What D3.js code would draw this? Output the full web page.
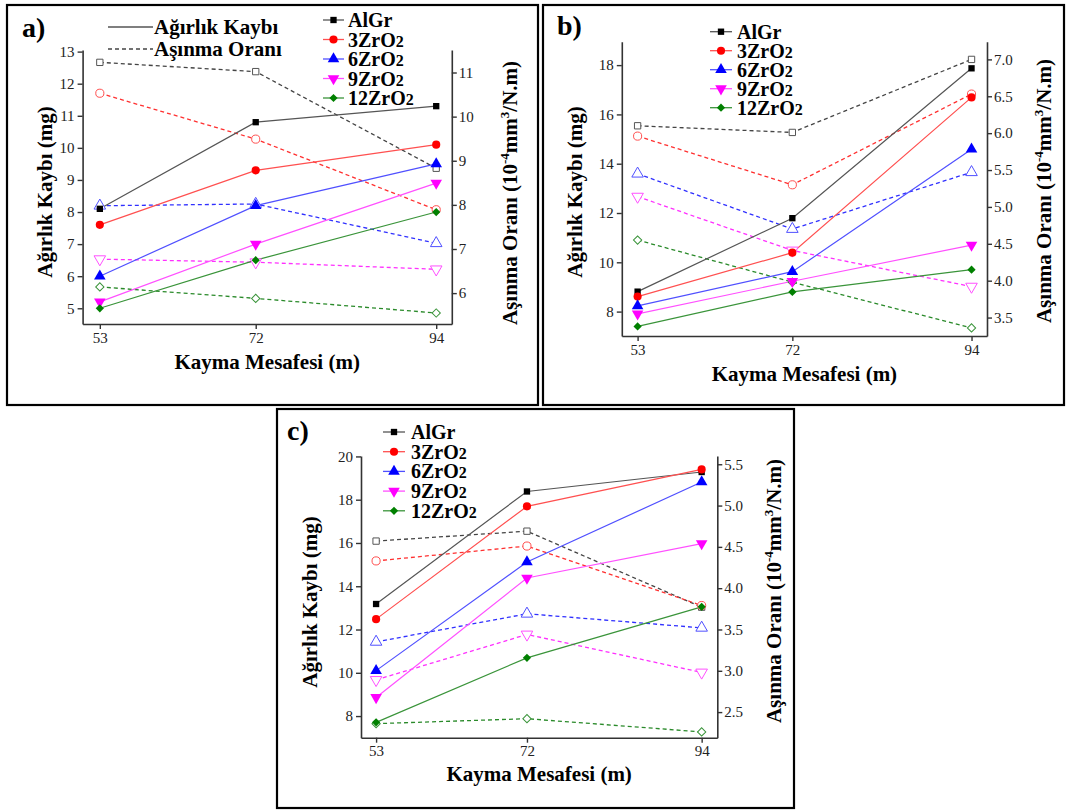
<!DOCTYPE html>
<html>
<head>
<meta charset="utf-8">
<script src="https://cdn.jsdelivr.net/npm/d3@7"></script>
<style>
body { margin: 0; background: #fff; }
svg text { font-family: "Liberation Serif", "DejaVu Serif", "Noto Serif", "Times New Roman", Times, serif !important; }
</style>
</head>
<body>
<div id="chart"></div>
<script>
// sliding distances and materials
var distances = [53, 72, 94]
var materials = ["AlGr", "3ZrO2", "6ZrO2", "9ZrO2", "12ZrO2"]

// a) weight loss (mg) and wear rate (10^-4 mm3/N.m), one row per material
var lossA = [[8.1, 10.8, 11.3], [7.6, 9.3, 10.1], [6.0, 8.2, 9.5], [5.2, 7.0, 8.9], [5.0, 6.5, 8.0]]
var rateA = [[11.23, 11.02, 8.83], [10.53, 9.49, 7.89], [7.98, 8.02, 7.13], [6.77, 6.70, 6.54], [6.14, 5.88, 5.55]]

// b)
var lossB = [[8.81, 11.79, 17.87], [8.61, 10.39, 16.69], [8.23, 9.62, 14.59], [7.91, 9.23, 10.70], [7.40, 8.80, 9.70]]
var rateB = [[6.10, 6.01, 7.00], [5.96, 5.30, 6.53], [5.45, 4.70, 5.47], [5.14, 4.41, 3.92], [4.55, 3.98, 3.36]]

// c)
var lossC = [[13.18, 18.38, 19.28], [12.48, 17.69, 19.40], [10.10, 15.12, 18.82], [8.86, 14.38, 15.97], [7.71, 10.69, 13.05]]
var rateC = [[4.57, 4.69, 3.77], [4.33, 4.51, 3.79], [3.35, 3.69, 3.52], [2.89, 3.44, 2.98], [2.36, 2.42, 2.26]]

// tick values
var leftTicksA = [5, 6, 7, 8, 9, 10, 11, 12, 13]
var rightTicksA = [6, 7, 8, 9, 10, 11]
var leftTicksB = [8, 10, 12, 14, 16, 18]
var rightTicksB = [3.5, 4.0, 4.5, 5.0, 5.5, 6.0, 6.5, 7.0]
var leftTicksC = [8, 10, 12, 14, 16, 18, 20]
var rightTicksC = [2.5, 3.0, 3.5, 4.0, 4.5, 5.0, 5.5]

// styles
var serif = "'Liberation Serif', 'DejaVu Serif', 'Noto Serif', serif"
var markerColours = ["#000000", "#ff0000", "#0000ff", "#ff00ff", "#008000"]
var lineColours = ["#555555", "#ff5050", "#5050ff", "#ff50ff", "#3a943a"]
var dashColours = ["#444444", "#ff3030", "#3030ff", "#ff30ff", "#2a8a2a"]
var shapes = [d3.symbolSquare, d3.symbolCircle, d3.symbolTriangle, d3.symbolTriangle, d3.symbolSquare]
var shapeSizes = [40, 52, 58, 58, 34]
var shapeRot = [0, 0, 0, 180, 45]

var svg = d3.select("#chart")
	.append("svg")
	.attr("width", 1068)
	.attr("height", 810)
	.attr("font-family", serif)

svg.append("rect").attr("width", 1068).attr("height", 810).attr("fill", "#fff")

// layouts of the three panels
var layoutA = {
	box: [7, 5, 538, 405], l: 82.6, r: 451.8, t: 50, b: 324,
	xDom: [50.9, 95.9], yDom: [4.51, 13.05], y2Dom: [5.30, 11.51],
	label: "a)", labelX: 22, labelY: 37,
	legX1: 323, legX2: 344, legTx: 348, legY0: 20, legDy: 19.5,
	yTitleX: 45, yTitleMid: 192, y2TitleX: 510, y2TitleMid: 193, xTitleY: 369,
	seriesLegend: true
}
var layoutB = {
	box: [543, 5, 1064, 405], l: 621.8, r: 987, t: 41.7, b: 336,
	xDom: [51.06, 95.9], yDom: [7.01, 18.95], y2Dom: [3.25, 7.24],
	label: "b)", labelX: 557, labelY: 35,
	legX1: 710, legX2: 732, legTx: 737, legY0: 31.7, legDy: 19,
	yTitleX: 575, yTitleMid: 192, y2TitleX: 1044, y2TitleMid: 191, xTitleY: 381,
	seriesLegend: false
}
var layoutC = {
	box: [277, 409, 794, 808], l: 361, r: 717.3, t: 456, b: 737.7,
	xDom: [51.1, 95.97], yDom: [7.0, 20.02], y2Dom: [2.19, 5.6],
	label: "c)", labelX: 287, labelY: 440,
	legX1: 383, legX2: 405, legTx: 411, legY0: 432, legDy: 19.7,
	yTitleX: 310, yTitleMid: 602, y2TitleX: 774, y2TitleMid: 591, xTitleY: 781,
	seriesLegend: false
}

function marker(sel, i, open) {
	sel.append("path")
		.attr("d", d3.symbol().type(shapes[i]).size(shapeSizes[i]))
		.attr("fill", open ? "#fff" : markerColours[i])
		.attr("stroke", open ? lineColours[i] : "none")
		.attr("stroke-width", 1)
}

function styleAxis(g) {
	g.attr("font-family", serif)
	g.select(".domain").attr("stroke", "#333").attr("stroke-width", 1.6)
	g.selectAll(".tick line").attr("stroke", "#333").attr("stroke-width", 1.4)
	g.selectAll(".tick text").attr("font-size", 15).attr("fill", "#222")
}

function drawPanel(lay, loss, rate, leftTicks, rightTicks, rightFmt) {
	var g = svg.append("g")

	g.append("rect")
		.attr("x", lay.box[0]).attr("y", lay.box[1])
		.attr("width", lay.box[2] - lay.box[0]).attr("height", lay.box[3] - lay.box[1])
		.attr("fill", "none").attr("stroke", "#000").attr("stroke-width", 2.2)

	var x = d3.scaleLinear().domain(lay.xDom).range([lay.l, lay.r])
	var y = d3.scaleLinear().domain(lay.yDom).range([lay.b, lay.t])
	var y2 = d3.scaleLinear().domain(lay.y2Dom).range([lay.b, lay.t])

	// axes
	g.append("g").attr("transform", "translate(0," + lay.b + ")")
		.call(d3.axisBottom(x).tickValues(distances).tickSizeInner(5).tickSizeOuter(0).tickPadding(3))
		.call(styleAxis)
	g.append("g").attr("transform", "translate(" + lay.l + ",0)")
		.call(d3.axisLeft(y).tickValues(leftTicks).tickSizeInner(5).tickSizeOuter(0).tickPadding(3))
		.call(styleAxis)
	g.append("g").attr("transform", "translate(" + lay.r + ",0)")
		.call(d3.axisRight(y2).tickValues(rightTicks).tickFormat(d3.format(rightFmt)).tickSizeInner(5).tickSizeOuter(0).tickPadding(2))
		.call(styleAxis)

	// titles
	g.append("text")
		.attr("x", (lay.l + lay.r) / 2).attr("y", lay.xTitleY)
		.attr("text-anchor", "middle").attr("font-size", 21).attr("font-weight", "bold")
		.text("Kayma Mesafesi (m)")
	g.append("text")
		.attr("transform", "translate(" + lay.yTitleX + "," + lay.yTitleMid + ") rotate(-90)")
		.attr("text-anchor", "middle").attr("dy", "0.35em").attr("font-size", 21).attr("font-weight", "bold")
		.text("Ağırlık Kaybı (mg)")
	var t2 = g.append("text")
		.attr("transform", "translate(" + lay.y2TitleX + "," + lay.y2TitleMid + ") rotate(-90)")
		.attr("text-anchor", "middle").attr("dy", "0.35em").attr("font-size", 21).attr("font-weight", "bold")
	t2.append("tspan").text("Aşınma Oranı (10")
	t2.append("tspan").attr("font-size", 13).attr("dy", -8).text("-4")
	t2.append("tspan").attr("dy", 8).text("mm")
	t2.append("tspan").attr("font-size", 13).attr("dy", -8).text("3")
	t2.append("tspan").attr("dy", 8).text("/N.m)")

	g.append("text")
		.attr("x", lay.labelX).attr("y", lay.labelY)
		.attr("font-size", 28).attr("font-weight", "bold")
		.text(lay.label)

	var line2 = d3.line().x(function(d, j) { return x(distances[j]) }).y(function(d) { return y2(d) })
	var line1 = d3.line().x(function(d, j) { return x(distances[j]) }).y(function(d) { return y(d) })

	// dashed wear-rate lines (right axis), then solid weight-loss lines
	rate.forEach(function(vals, i) {
		g.append("path").attr("d", line2(vals))
			.attr("fill", "none").attr("stroke", dashColours[i]).attr("stroke-width", 1.3)
			.attr("stroke-dasharray", "4,3")
	})
	loss.forEach(function(vals, i) {
		g.append("path").attr("d", line1(vals))
			.attr("fill", "none").attr("stroke", lineColours[i]).attr("stroke-width", 1.2)
	})
	rate.forEach(function(vals, i) {
		vals.forEach(function(v, j) {
			var m = g.append("g").attr("transform", "translate(" + x(distances[j]) + "," + y2(v) + ") rotate(" + shapeRot[i] + ")")
			marker(m, i, true)
		})
	})
	loss.forEach(function(vals, i) {
		vals.forEach(function(v, j) {
			var m = g.append("g").attr("transform", "translate(" + x(distances[j]) + "," + y(v) + ") rotate(" + shapeRot[i] + ")")
			marker(m, i, false)
		})
	})

	// materials legend
	materials.forEach(function(name, i) {
		var ly = lay.legY0 + i * lay.legDy
		g.append("line").attr("x1", lay.legX1).attr("x2", lay.legX2).attr("y1", ly).attr("y2", ly)
			.attr("stroke", lineColours[i]).attr("stroke-width", 1.3)
		var m = g.append("g").attr("transform", "translate(" + (lay.legX1 + lay.legX2) / 2 + "," + ly + ") rotate(" + shapeRot[i] + ")")
		marker(m, i, false)
		var t = g.append("text").attr("x", lay.legTx).attr("y", ly + 7)
			.attr("font-size", 20).attr("font-weight", "bold")
		if (name.slice(-1) === "2") {
			t.append("tspan").text(name.slice(0, -1))
			t.append("tspan").attr("font-size", 16).text("2")
		} else {
			t.text(name)
		}
	})

	// line-style legend (only on panel a)
	if (lay.seriesLegend) {
		g.append("line").attr("x1", 108).attr("x2", 153).attr("y1", 27).attr("y2", 27)
			.attr("stroke", "#555").attr("stroke-width", 1.3)
		g.append("text").attr("x", 154).attr("y", 34).attr("font-size", 21).attr("font-weight", "bold")
			.text("Ağırlık Kaybı")
		g.append("line").attr("x1", 108).attr("x2", 153).attr("y1", 49).attr("y2", 49)
			.attr("stroke", "#444").attr("stroke-width", 1.3).attr("stroke-dasharray", "4,3")
		g.append("text").attr("x", 154).attr("y", 56).attr("font-size", 21).attr("font-weight", "bold")
			.text("Aşınma Oranı")
	}
}

drawPanel(layoutA, lossA, rateA, leftTicksA, rightTicksA, "d")
drawPanel(layoutB, lossB, rateB, leftTicksB, rightTicksB, ".1f")
drawPanel(layoutC, lossC, rateC, leftTicksC, rightTicksC, ".1f")
</script>
</body>
</html>
